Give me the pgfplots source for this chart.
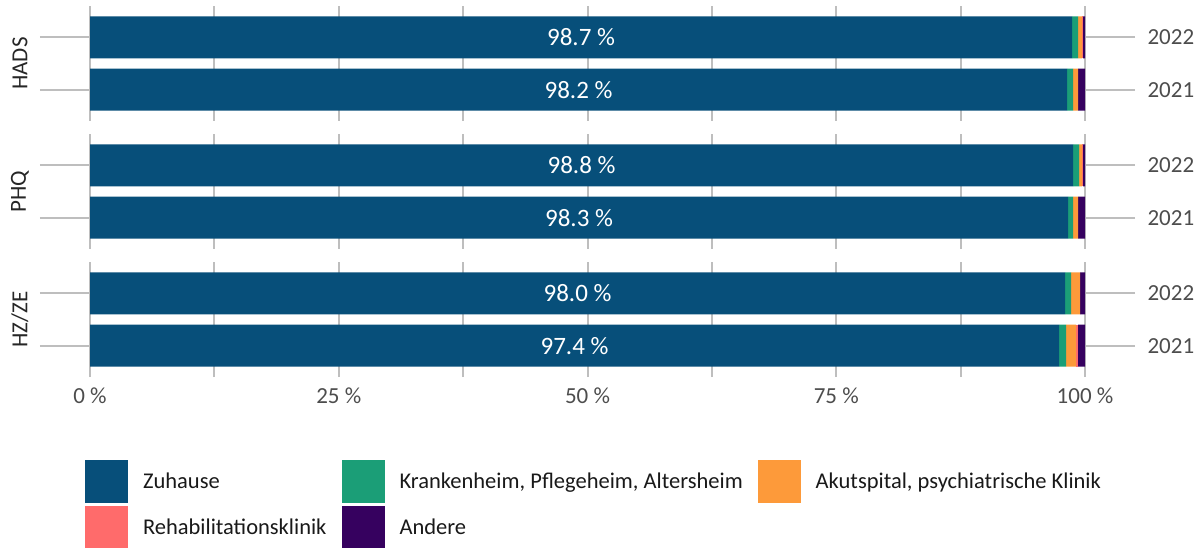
\documentclass[border=0pt]{standalone}
\usepackage{fontspec}
\setmainfont{Carlito}
\usepackage{pgfplots}
\pgfplotsset{compat=1.18}
\definecolor{cZu}{HTML}{074F7A}
\definecolor{cKr}{HTML}{1B9E77}
\definecolor{cAk}{HTML}{FD9A3A}
\definecolor{cRe}{HTML}{FF6B6B}
\definecolor{cAn}{HTML}{36015F}
\definecolor{cGrid}{HTML}{BEBEBE}
\definecolor{cTxt}{HTML}{4D4D4D}
\newcommand{\tf}{\fontsize{23}{27}\selectfont}
\newcommand{\lf}{\fontsize{22.5}{27}\selectfont}
\newcommand{\barfont}{\fontsize{25}{30}\selectfont}
\tikzset{lbl/.style={text=white, font=\barfont}}
\pgfplotsset{
 panel/.style={
  scale only axis, width=995pt, height=115pt, anchor=north west,
  xbar stacked, bar width=42pt,
  xmin=0, xmax=100, ymin=0.4, ymax=2.6,
  axis line style={draw=none},
  xtick={0,25,50,75,100}, minor xtick={12.5,37.5,62.5,87.5},
  xmajorgrids, xminorgrids,
  major grid style={cGrid, line width=2pt},
  minor grid style={cGrid, line width=2pt},
  x tick style={draw=none},
  ytick={1,2}, yticklabels={2021,2022},
  ytick pos=both, yticklabel pos=right,
  tick align=outside, major tick length=50pt,
  y tick style={cGrid, line width=2pt},
  ticklabel style={font=\tf, text=cTxt},
  xticklabel style={yshift=43pt},
  yticklabel style={xshift=9pt},
  ylabel style={at={(axis description cs:-0.0704,0.5)}, anchor=center, font=\tf, text=black!85},
  every axis plot/.append style={draw=none},
 }
}
\begin{document}
\begin{tikzpicture}
\path[use as bounding box] (0,0) rectangle (1204pt,-548pt);
% HADS
\begin{axis}[panel, at={(90pt,-6pt)}, xticklabels=\empty, ylabel={HADS}]
\addplot[fill=cZu] coordinates {(98.7,2) (98.2,1)};
\addplot[fill=cKr] coordinates {(0.6,2) (0.6,1)};
\addplot[fill=cAk] coordinates {(0.4,2) (0.5,1)};
\addplot[fill=cRe] coordinates {(0.1,2) (0.0,1)};
\addplot[fill=cAn] coordinates {(0.2,2) (0.7,1)};
\coordinate (a2) at (axis cs:49.35,2);
\coordinate (a1) at (axis cs:49.1,1);
\end{axis}
\node[lbl] at (a2) {98.7 \%};
\node[lbl] at (a1) {98.2 \%};
% PHQ
\begin{axis}[panel, at={(90pt,-134pt)}, xticklabels=\empty, ylabel={PHQ}]
\addplot[fill=cZu] coordinates {(98.8,2) (98.3,1)};
\addplot[fill=cKr] coordinates {(0.6,2) (0.5,1)};
\addplot[fill=cAk] coordinates {(0.3,2) (0.5,1)};
\addplot[fill=cRe] coordinates {(0.1,2) (0.0,1)};
\addplot[fill=cAn] coordinates {(0.2,2) (0.7,1)};
\coordinate (b2) at (axis cs:49.4,2);
\coordinate (b1) at (axis cs:49.15,1);
\end{axis}
\node[lbl] at (b2) {98.8 \%};
\node[lbl] at (b1) {98.3 \%};
% HZ/ZE
\begin{axis}[panel, at={(90pt,-262pt)}, xticklabels={0 \%,25 \%,50 \%,75 \%,100 \%}, ylabel={HZ/ZE},
  legend columns=3,
  legend image code/.code={\fill[#1] (0pt,-22pt) rectangle (43pt,21pt);},
  legend cell align=left,
  legend style={at={(axis description cs:-0.005,-0.7217)}, anchor=north west, draw=none, fill=none,
    inner sep=0pt, outer sep=0pt, column sep=15pt, row sep=3pt,
    nodes={inner sep=0pt, font=\lf, text=black!90}}]
\addplot[fill=cZu] coordinates {(98.0,2) (97.4,1)};
\addlegendentry{Zuhause}
\addplot[fill=cKr] coordinates {(0.6,2) (0.7,1)};
\addlegendentry{Krankenheim, Pflegeheim, Altersheim}
\addplot[fill=cAk] coordinates {(0.9,2) (1.0,1)};
\addlegendentry{Akutspital, psychiatrische Klinik}
\addplot[fill=cRe] coordinates {(0.0,2) (0.2,1)};
\addlegendentry{Rehabilitationsklinik}
\addplot[fill=cAn] coordinates {(0.5,2) (0.7,1)};
\addlegendentry{Andere}
\coordinate (c2) at (axis cs:49.0,2);
\coordinate (c1) at (axis cs:48.7,1);
\end{axis}
\node[lbl] at (c2) {98.0 \%};
\node[lbl] at (c1) {97.4 \%};
\end{tikzpicture}
\end{document}
